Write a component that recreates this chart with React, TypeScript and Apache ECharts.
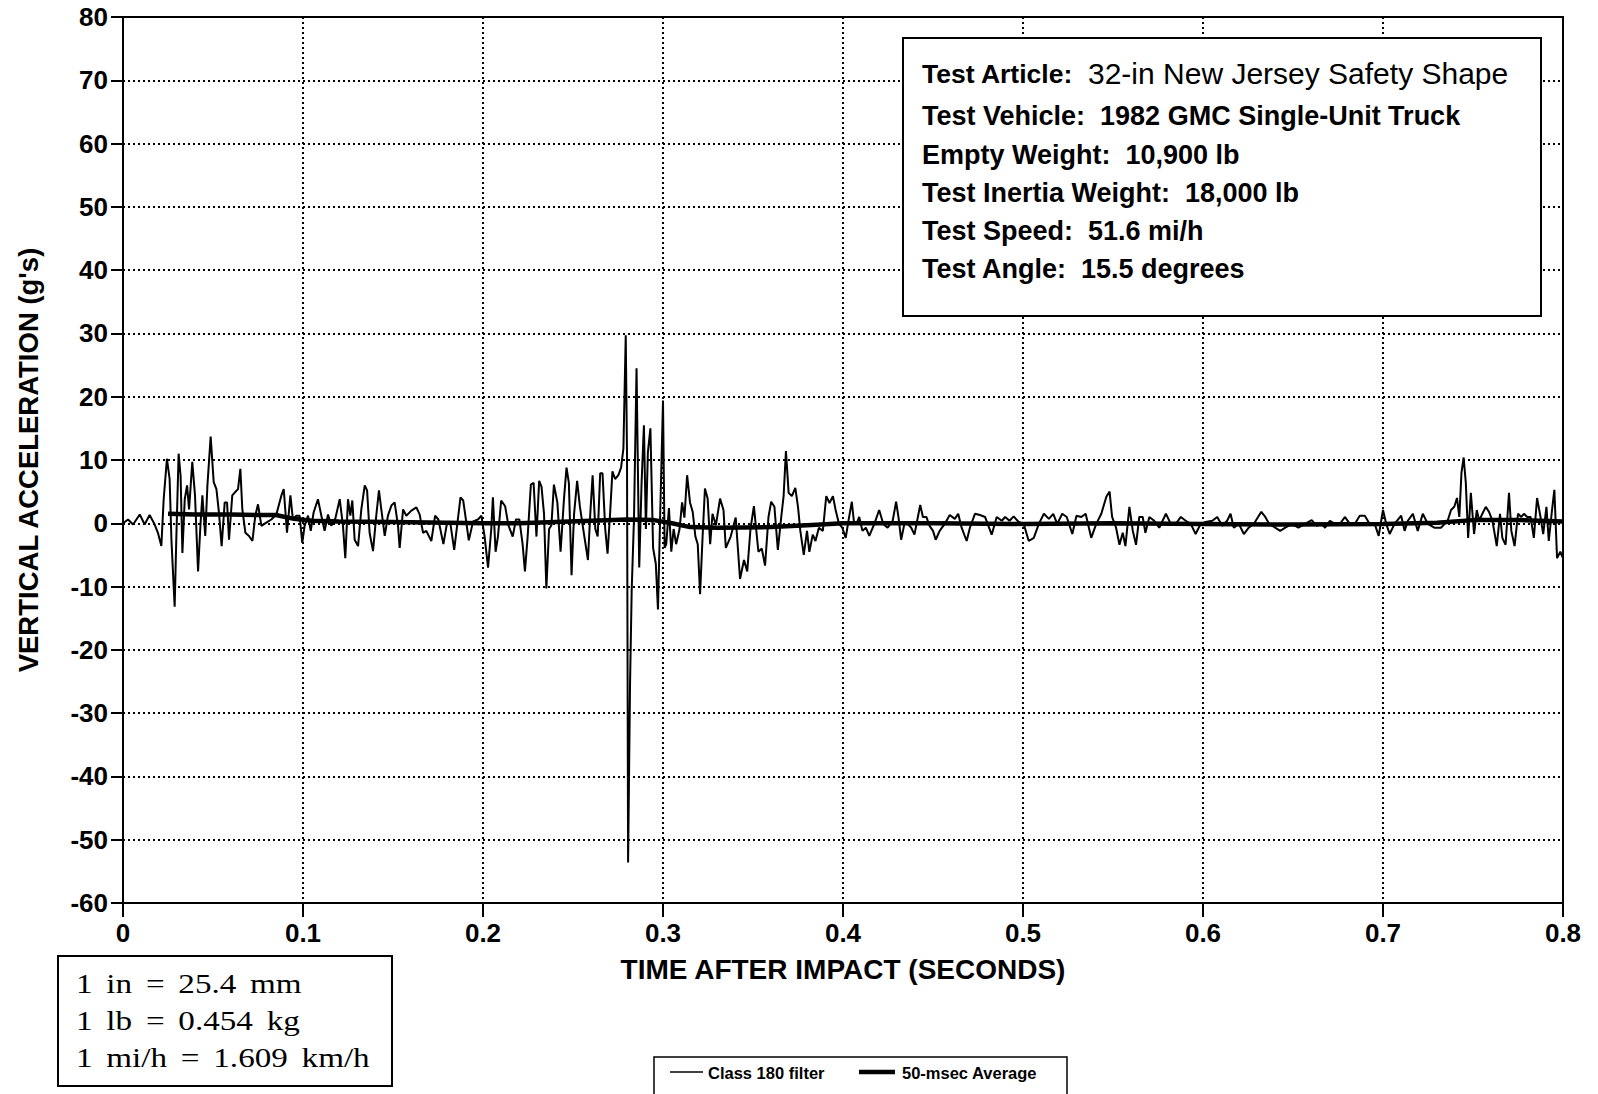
import React, { useEffect, useRef } from "react";
import * as echarts from "echarts";

const X_MIN = 0;
const X_MAX = 0.8;
const X_STEP = 0.1;
const Y_MIN = -60;
const Y_MAX = 80;
const Y_STEP = 10;

const X_TITLE = "TIME AFTER IMPACT (SECONDS)";
const Y_TITLE = "VERTICAL ACCELERATION (g's)";
const SERIES_NAMES = ["Class 180 filter", "50-msec Average"];

// Class 180 filter trace, [time (s), acceleration (g)]
const filterSegA = [
  [0, 0], [0.0028, 0.6], [0.0056, -0.2], [0.0093, 1.4], [0.012, -0.2], [0.0148, 1.3], [0.0176, -0.2],
  [0.0194, -1.5], [0.0213, -3.6], [0.0226, 3.8], [0.0244, 10.2], [0.0259, 7.0], [0.0269, -2.6],
  [0.0287, -13.2], [0.0296, -2.6], [0.0309, 11.0], [0.032, 7.5], [0.033, -4.7], [0.0343, 3.8],
  [0.0356, 6.0], [0.0367, 2.2], [0.0385, 9.7], [0.04, 4.4], [0.0417, -7.6], [0.043, -0.4], [0.0441, 4.4],
  [0.0457, -2.0], [0.0469, 6.0], [0.0487, 13.7], [0.0504, 6.5], [0.0519, 5.4], [0.0533, 1.7],
  [0.0548, -3.6], [0.0565, 3.3], [0.0578, 3.3], [0.0589, -2.6], [0.0607, 4.4], [0.0622, 4.9],
  [0.0639, 5.4], [0.0652, 8.6], [0.0663, 2.2], [0.068, -1.5], [0.07, -2.0], [0.0719, -2.8], [0.0735, 1.2],
  [0.075, 3.0], [0.0769, -0.4], [0.0796, 0.1], [0.0824, 0.6], [0.0852, 1.4], [0.088, 4.4], [0.0893, 5.4],
  [0.0911, -1.5], [0.093, 4.4], [0.0944, 0.6], [0.0963, 1.2], [0.0981, 1.2], [0.0996, -3.1],
  [0.1009, -0.4], [0.1028, 1.2], [0.1043, -1.2], [0.1059, 1.7], [0.1083, 3.8], [0.1102, 1.2],
  [0.112, -1.2], [0.1139, 1.4], [0.1157, -0.4], [0.118, 0.8], [0.1204, 3.8], [0.1222, -0.4],
  [0.1235, -5.5], [0.125, 3.8], [0.1263, 1.2], [0.1274, 3.6], [0.1287, -2.6], [0.1306, -3.6],
  [0.1324, 2.2], [0.1343, 6.0], [0.1356, 5.2], [0.137, -1.5], [0.1389, -4.4], [0.1407, 1.2],
  [0.1422, 5.2], [0.1435, 2.2], [0.1454, -2.0], [0.1472, 1.2], [0.1491, 2.8], [0.1509, 3.3],
  [0.1528, -0.4], [0.1537, -3.9], [0.1556, 2.2], [0.1574, 1.2], [0.1602, 2.0], [0.163, 2.5],
  [0.1648, 1.4], [0.1667, -1.5], [0.1685, -1.2], [0.1713, -2.8],
];

const filterSegB = [
  [0.1734, 1.2], [0.1752, 0.6], [0.178, -3.3], [0.1798, -0.3], [0.1817, 0.3], [0.184, -4.2],
  [0.1859, 0.3], [0.1875, 4.1], [0.189, 3.6], [0.1908, 0], [0.1921, -2.7], [0.1945, 0.3], [0.1972, 0.6],
  [0.1991, 1.2], [0.2009, -2.1], [0.2028, -7.0], [0.2046, -0.9], [0.2055, 4.1], [0.207, -4.5],
  [0.2083, -2.1], [0.2101, 3.6], [0.2123, 2.7], [0.2141, -0.3], [0.2165, -2.1], [0.2183, 0.6],
  [0.2202, 0.6], [0.222, -3.3], [0.2233, -7.6], [0.2248, -2.1], [0.2266, 6.1], [0.2281, 6.4],
  [0.2297, -2.1], [0.2312, 6.7], [0.2325, 5.8], [0.2339, 1.5], [0.2352, -10.3], [0.2367, -0.9],
  [0.238, -0.3], [0.2394, 6.1], [0.2413, 3.3], [0.2431, -4.5], [0.245, 3.9], [0.2464, 8.8],
  [0.2477, 6.4], [0.2492, -8.2], [0.2506, 1.5], [0.2523, 6.7], [0.2538, 2.7], [0.256, -1.5],
  [0.2583, -5.8], [0.2596, 1.5], [0.2609, 7.6], [0.2624, -0.9], [0.2637, -2.1], [0.2651, 7.9],
  [0.2664, 7.9], [0.2679, -0.9], [0.2692, -4.8], [0.2706, 1.5], [0.2719, 8.2], [0.2734, 7.0],
  [0.2752, 7.6], [0.2767, 8.8], [0.278, 11.8], [0.2793, 29.7], [0.28, 11.2], [0.2806, -53.6],
  [0.2817, -25.2], [0.2826, -10.6], [0.2839, 0.9], [0.2853, 24.5], [0.2868, -7.0], [0.2881, 6.4],
  [0.2894, 15.5], [0.2905, -0.9], [0.2916, 11.2], [0.293, 15.0], [0.2945, -3.9], [0.296, -6.4],
  [0.2972, -13.6], [0.2985, 2.1], [0.3, 19.4], [0.3009, -3.9], [0.3018, -3.3], [0.3033, 2.4],
  [0.3046, -4.5], [0.3059, -0.9], [0.3073, -3.3], [0.3092, -0.9], [0.3106, 3.3], [0.3119, 0.9],
  [0.3134, 7.6], [0.315, 3.3], [0.3165, 1.8], [0.318, -2.1], [0.3193, -3.3], [0.3206, -11.2],
  [0.322, -2.1], [0.3233, 5.5], [0.3248, 3.9], [0.3262, -3.3], [0.3275, 1.5], [0.3294, -0.3],
  [0.3317, 3.9], [0.3336, 2.1], [0.3349, -3.9], [0.3376, -2.1], [0.3404, 0.9], [0.3428, -8.8],
  [0.345, -5.8], [0.3468, -7.6], [0.3486, -0.9], [0.3505, 2.7],
];

const filterSegC = [
  [0.353, -4.5], [0.3549, -4.0], [0.3567, -6.7], [0.3586, 1.0], [0.3601, 3.4], [0.3619, 2.6],
  [0.3638, -4.2], [0.3657, 1.0], [0.367, 4.3], [0.3683, 11.4], [0.3698, 4.8], [0.3716, 4.3],
  [0.3735, 5.6], [0.375, 2.6], [0.3763, -1.2], [0.3782, -5.0], [0.38, -1.2], [0.3813, -4.5],
  [0.3832, -1.8], [0.3847, -2.8], [0.3866, -0.7], [0.3888, -1.2], [0.3907, 4.3], [0.3925, 3.2],
  [0.3944, 4.3], [0.3959, 2.1], [0.3978, -0.1], [0.3996, -0.7], [0.4015, -2.3], [0.4034, 1.0],
  [0.4049, 3.4], [0.4062, -0.1], [0.4075, -0.1], [0.409, 1.0], [0.4108, -1.2], [0.4127, -0.7],
  [0.4146, -2.0], [0.4174, -0.1], [0.4201, 2.1], [0.4224, -0.1], [0.4248, -0.7], [0.4276, 0.4],
  [0.4295, 3.4], [0.4308, 1.0], [0.4323, -2.6], [0.4341, -0.1], [0.436, -0.1], [0.4379, -0.7],
  [0.4397, -1.8], [0.4416, 1.0], [0.4429, 2.9], [0.4444, 1.0], [0.4463, 1.0], [0.4481, -0.4],
  [0.45, -1.2], [0.4515, -2.6], [0.4537, -1.2], [0.4565, -0.1], [0.4593, 1.3], [0.4621, 0.7],
  [0.464, 1.5], [0.4659, -0.7], [0.4687, -2.8], [0.4705, -0.7], [0.4733, 1.5], [0.4761, 1.3],
  [0.4789, 1.0], [0.4826, -1.8], [0.4854, 1.0], [0.4882, 0.4], [0.4901, 1.0], [0.4925, 0.4],
  [0.4948, 1.1], [0.4976, 0.2], [0.5004, -0.1], [0.5032, -2.8], [0.506, -2.3], [0.5088, -0.1],
  [0.5116, 1.5], [0.5144, 0.7], [0.5168, 1.5], [0.519, -0.1], [0.5218, 1.5], [0.5243, 1.0],
];

const filterSegD = [
  [0.5274, -1.7], [0.5297, 1.2], [0.5324, 1.0], [0.5348, 1.5], [0.5379, -2.3], [0.5407, -0.1],
  [0.5435, 1.5], [0.5463, 4.2], [0.5481, 5.0], [0.5495, 1.0], [0.5517, -0.7], [0.5536, -3.4],
  [0.5554, -1.5], [0.5569, -3.6], [0.5591, 2.6], [0.561, -1.2], [0.5628, -3.4], [0.5646, 1.0],
  [0.5665, 1.0], [0.568, -1.5], [0.5702, 1.0], [0.5729, 0.4], [0.5757, -0.7], [0.5794, 1.5],
  [0.5821, -0.1], [0.5849, -0.1], [0.5877, 1.0], [0.5904, 0.4], [0.5932, -0.1], [0.5959, -1.7],
  [0.5987, -0.1], [0.6015, 0.2], [0.6052, 0.4], [0.6079, 1.0], [0.6107, -0.4], [0.6134, 0.4],
  [0.6153, 1.5], [0.6171, -0.7], [0.6199, -0.1], [0.6227, -1.7], [0.6254, -0.7], [0.6282, -0.1],
  [0.6306, 1.0], [0.6324, 1.8], [0.6346, 1.0], [0.6368, -0.1], [0.6401, -0.7], [0.6429, -1.2],
  [0.6457, -0.7], [0.6494, -0.1], [0.653, -0.7], [0.6567, -0.1], [0.6604, 0.5], [0.6632, -0.4],
  [0.6659, -0.1], [0.6678, -0.7], [0.6705, 0.4], [0.6733, -0.1], [0.6761, -0.1], [0.6788, 1.0],
  [0.6816, -0.1], [0.6843, -0.1], [0.6871, 1.2], [0.6899, 1.2], [0.6926, -0.1], [0.6954, -0.1],
  [0.6976, -2.0], [0.7, 2.1], [0.7018, -0.1], [0.7037, -1.7], [0.7064, -0.1], [0.7101, 1.2],
  [0.712, -1.2], [0.7138, 0.4], [0.7166, 1.5], [0.7193, -1.2], [0.7221, 1.5], [0.7249, -0.1],
  [0.7285, -0.7], [0.7322, -0.7], [0.7359, 0.4], [0.7378, 2.1], [0.7396, 2.6], [0.7411, 4.0],
  [0.7424, 1.0], [0.7436, 8.0], [0.7448, 10.4], [0.746, 6.4], [0.7473, -2.3], [0.7488, 4.8],
  [0.7506, -1.7], [0.7521, 2.1], [0.7534, 0.4], [0.7552, 1.5], [0.7571, 2.6], [0.7589, 1.8],
  [0.7608, 0.4], [0.7632, -3.6], [0.765, 1.5], [0.7663, -2.3], [0.7681, -3.4], [0.77, 4.8],
  [0.7713, -1.2], [0.7731, -3.6], [0.775, 1.5], [0.7768, 1.0], [0.7783, 1.5], [0.7801, 1.0],
  [0.782, 1.0], [0.7838, -2.3], [0.7856, 4.0], [0.7875, 1.0], [0.789, -1.7], [0.7908, 2.6],
  [0.7921, -2.8], [0.7939, 2.1], [0.7952, 5.3], [0.7967, -5.5], [0.7985, -4.5], [0.8, -5.5],
];

// 50-msec average, [time (s), acceleration (g)]
const averageTrace = [
  [0.025, 1.5], [0.04, 1.4], [0.06, 1.4], [0.075, 1.3], [0.085, 1.3], [0.095, 0.7], [0.105, 0.4],
  [0.12, 0.3], [0.15, 0.2], [0.18, 0.1], [0.2, 0], [0.22, 0], [0.24, 0.2], [0.26, 0.4], [0.28, 0.6],
  [0.295, 0.5], [0.305, 0], [0.315, -0.6], [0.33, -0.7], [0.36, -0.6], [0.38, -0.3], [0.4, 0],
  [0.45, 0], [0.5, -0.1], [0.55, 0], [0.6, -0.1], [0.65, -0.2], [0.7, -0.1], [0.73, 0.1],
  [0.75, 0.5], [0.775, 0.5], [0.8, 0.3],
];

const INFO_LABEL_FIRST = "Test Article:";
const INFO_VALUE_FIRST = "32-in New Jersey Safety Shape";
const INFO_LINES = [
  "Test Vehicle:  1982 GMC Single-Unit Truck",
  "Empty Weight:  10,900 lb",
  "Test Inertia Weight:  18,000 lb",
  "Test Speed:  51.6 mi/h",
  "Test Angle:  15.5 degrees",
];
const SP = " \u2006";
const UNIT_LINES = [
  `1${SP}in${SP}=${SP}25.4${SP}mm`,
  `1${SP}lb${SP}=${SP}0.454${SP}kg`,
  `1${SP}mi/h${SP}=${SP}1.609${SP}km/h`,
];

const SANS = "'Liberation Sans', Arial, Helvetica, sans-serif";
const SERIF = "'Liberation Serif', 'Times New Roman', serif";

export default function App() {
  const ref = useRef<HTMLDivElement>(null);

  useEffect(() => {
    if (!ref.current) return;
    const chart = echarts.init(ref.current, null, { renderer: "svg" });
    const filterData = [...filterSegA, ...filterSegB, ...filterSegC, ...filterSegD];

    const texts: any[] = [
      {
        type: "text",
        x: 922,
        y: 74,
        z: 101,
        style: {
          text: INFO_LABEL_FIRST,
          fontFamily: SANS,
          fontSize: 26.5,
          fontWeight: "bold",
          fill: "#000",
          verticalAlign: "middle",
        },
      },
      {
        type: "text",
        x: 1088,
        y: 73,
        z: 101,
        style: {
          text: INFO_VALUE_FIRST,
          fontFamily: SANS,
          fontSize: 30,
          fill: "#000",
          verticalAlign: "middle",
        },
      },
    ];
    const infoY = [116, 155, 193, 231, 269];
    INFO_LINES.forEach((t, i) => {
      texts.push({
        type: "text",
        x: 922,
        y: infoY[i],
        z: 101,
        style: {
          text: t,
          fontFamily: SANS,
          fontSize: 27,
          fontWeight: "bold",
          fill: "#000",
          verticalAlign: "middle",
        },
      });
    });
    const unitY = [984, 1021, 1058];
    UNIT_LINES.forEach((t, i) => {
      texts.push({
        type: "text",
        x: 76,
        y: unitY[i],
        z: 101,
        scaleX: 1.25,
        style: { text: t, fontFamily: SERIF, fontSize: 26.5, fill: "#000", verticalAlign: "middle" },
      });
    });

    // legend box content
    texts.push(
      {
        type: "line",
        z: 101,
        shape: { x1: 670, y1: 1072, x2: 703, y2: 1072 },
        style: { stroke: "#000", lineWidth: 1.5 },
      },
      {
        type: "text",
        x: 708,
        y: 1073,
        z: 101,
        style: {
          text: SERIES_NAMES[0],
          fontFamily: SANS,
          fontSize: 16.5,
          fontWeight: "bold",
          fill: "#000",
          verticalAlign: "middle",
        },
      },
      {
        type: "line",
        z: 101,
        shape: { x1: 859, y1: 1072, x2: 895, y2: 1072 },
        style: { stroke: "#000", lineWidth: 4.5 },
      },
      {
        type: "text",
        x: 902,
        y: 1073,
        z: 101,
        style: {
          text: SERIES_NAMES[1],
          fontFamily: SANS,
          fontSize: 16.5,
          fontWeight: "bold",
          fill: "#000",
          verticalAlign: "middle",
        },
      }
    );

    chart.setOption({
      animation: false,
      backgroundColor: "#fff",
      grid: {
        left: 123,
        top: 17,
        width: 1440,
        height: 886,
        show: true,
        borderColor: "#000",
        borderWidth: 2,
        backgroundColor: "transparent",
      },
      xAxis: {
        type: "value",
        min: X_MIN,
        max: X_MAX,
        interval: X_STEP,
        name: X_TITLE,
        nameLocation: "middle",
        nameGap: 52,
        nameTextStyle: { fontFamily: SANS, fontSize: 28, fontWeight: "bold", color: "#000" },
        axisLine: { show: true, onZero: false, lineStyle: { color: "#000", width: 2 } },
        axisTick: { show: true, inside: false, length: 14, lineStyle: { color: "#000", width: 2 } },
        axisLabel: {
          margin: 17,
          fontFamily: SANS,
          fontSize: 26,
          fontWeight: "bold",
          color: "#000",
          formatter: (v: number) => String(Math.round(v * 10) / 10),
        },
        splitLine: { show: true, lineStyle: { color: "#000", width: 2, type: [2, 3] } },
      },
      yAxis: {
        type: "value",
        min: Y_MIN,
        max: Y_MAX,
        interval: Y_STEP,
        name: Y_TITLE,
        nameLocation: "middle",
        nameRotate: 90,
        nameGap: 81,
        nameTextStyle: { fontFamily: SANS, fontSize: 27.5, fontWeight: "bold", color: "#000" },
        axisLine: { show: true, onZero: false, lineStyle: { color: "#000", width: 2 } },
        axisTick: { show: true, inside: false, length: 12, lineStyle: { color: "#000", width: 2 } },
        axisLabel: { margin: 15, fontFamily: SANS, fontSize: 26, fontWeight: "bold", color: "#000" },
        splitLine: { show: true, lineStyle: { color: "#000", width: 2, type: [2, 3] } },
      },
      series: [
        {
          type: "line",
          name: SERIES_NAMES[0],
          data: filterData,
          symbol: "none",
          showSymbol: false,
          lineStyle: { color: "#000", width: 2 },
          itemStyle: { color: "#000" },
          z: 3,
        },
        {
          type: "line",
          name: SERIES_NAMES[1],
          data: averageTrace,
          symbol: "none",
          showSymbol: false,
          lineStyle: { color: "#000", width: 4.5 },
          itemStyle: { color: "#000" },
          z: 4,
        },
      ],
      graphic: [
        {
          type: "rect",
          z: 100,
          shape: { x: 903, y: 38, width: 638, height: 278 },
          style: { fill: "#fff", stroke: "#000", lineWidth: 2 },
        },
        {
          type: "rect",
          z: 100,
          shape: { x: 58, y: 956, width: 334, height: 130 },
          style: { fill: "#fff", stroke: "#000", lineWidth: 2 },
        },
        {
          type: "rect",
          z: 90,
          shape: { x: 654, y: 1057, width: 413, height: 60 },
          style: { fill: "none", stroke: "#000", lineWidth: 1.5 },
        },
        ...texts,
      ],
    });
    return () => chart.dispose();
  }, []);

  return (
    <div
      ref={ref}
      style={{ position: "absolute", left: 0, top: 0, width: 1598, height: 1094, background: "#fff" }}
    />
  );
}
